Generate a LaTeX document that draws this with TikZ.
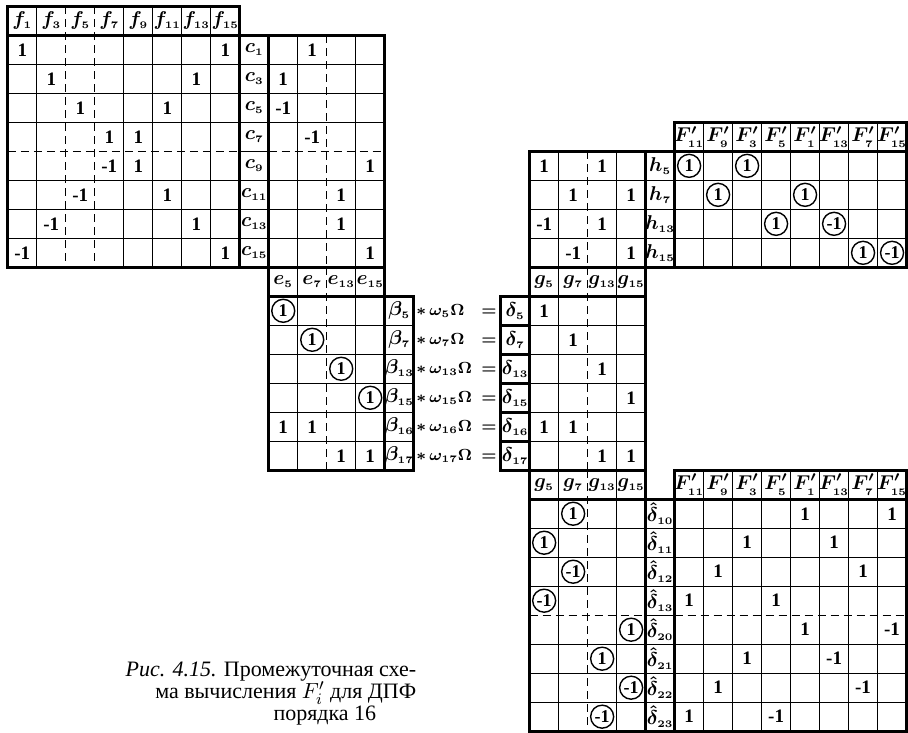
\documentclass[tikz,border=0pt]{standalone}
\usepackage{amsmath}
\usepackage{fontspec}
\setmainfont{Liberation Serif}
\usepackage{tikz}

\tikzset{
  thinrule/.style={line width=0.6pt},
  thickrule/.style={line width=1.6pt},
  halfrule/.style={line width=0.6pt, dash pattern=on 4pt off 2.5pt},
  entry/.style={inner sep=0pt, font=\fontsize{9.5}{10}\selectfont\bfseries},
  ringed/.style={circle, draw, line width=0.7pt, inner sep=0pt, minimum size=11.5pt,
    font=\fontsize{9}{10}\selectfont\bfseries},
  tag/.style={inner sep=0pt, font=\fontsize{10}{11}\selectfont\boldmath},
}
\newcommand{\sub}[2]{#1_{\scriptscriptstyle #2}}

\begin{document}
\begin{tikzpicture}[x=14.5pt, y=-14.5pt]
\useasboundingbox (-0.27,-0.22) rectangle (31.05,25.03);

% Draw matrix f -> c
\foreach \x in {1,4,5,6,7} \draw[thinrule] (\x,0) -- (\x,9);
\foreach \x in {2,3} \draw[halfrule] (\x,0) -- (\x,9);
\foreach \y in {2,3,4,6,7,8} \draw[thinrule] (0,\y) -- (13,\y);
\draw[halfrule] (0,5) -- (8,5);
\draw[thinrule] (8,5) -- (9,5);
\draw[halfrule] (9,5) -- (13,5);
\foreach \x in {10,12} \draw[thinrule] (\x,1) -- (\x,9);
\draw[halfrule] (11,1) -- (11,9);
\draw[thickrule] (0,0) rectangle (8,1);
\draw[thickrule] (0,1) rectangle (8,9);
\draw[thickrule] (8,1) rectangle (9,9);
\draw[thickrule] (9,1) rectangle (13,9);

\foreach \k/\n in {0/1,1/3,2/5,3/7,4/9,5/11,6/13,7/15}
  \node[tag] (f\n) at (\k+0.5,0.5) {$\sub{f}{\n}$};
\foreach \k/\n in {1/1,2/3,3/5,4/7,5/9,6/11,7/13,8/15}
  \node[tag] (c\n) at (8.5,\k+0.5) {$\sub{c}{\n}$};
\foreach \x/\y/\v [count=\i] in {0/1/1, 7/1/1, 1/2/1, 6/2/1, 2/3/1, 5/3/1, 3/4/1, 4/4/1,
    3/5/-1, 4/5/1, 2/6/-1, 5/6/1, 1/7/-1, 6/7/1, 0/8/-1, 7/8/1,
    10/1/1, 9/2/1, 9/3/-1, 10/4/-1, 12/5/1, 11/6/1, 11/7/1, 12/8/1}
  \node[entry] (a\i) at (\x+0.5,\y+0.5) {\v};

% Draw matrix e -> beta
\draw[thinrule] (10,9) -- (10,16);
\draw[halfrule] (11,9) -- (11,16);
\draw[thinrule] (12,9) -- (12,16);
\foreach \y in {11,...,15} \draw[thinrule] (9,\y) -- (14,\y);
\draw[thickrule] (9,9) rectangle (13,10);
\draw[thickrule] (9,10) rectangle (13,16);
\draw[thickrule] (13,10) rectangle (14,16);

\foreach \k/\n in {9/5,10/7,11/13,12/15}
  \node[tag] (e\n) at (\k+0.5,9.5) {$\sub{e}{\n}$};
\foreach \x/\y [count=\i] in {9/10, 10/11, 11/12, 12/13}
  \node[ringed] (r\i) at (\x+0.5,\y+0.5) {1};
\foreach \x/\y [count=\i] in {9/14, 10/14, 11/15, 12/15}
  \node[entry] (b\i) at (\x+0.5,\y+0.5) {1};

% Products with twiddle factors
\foreach \k/\n in {10/5,11/7,12/13,13/15,14/16,15/17} {
  \node[tag] (beta\n) at (13.5,\k+0.5) {$\sub{\beta}{\n}$};
  \node[tag, anchor=west, font=\fontsize{8.5}{10}\selectfont\boldmath] (om\n) at (14.08,\k+0.5)
    {\makebox[32.5pt][l]{$\ast\,\sub{\omega}{\n}\Omega$}$=$};
  \node[tag] (delta\n) at (17.5,\k+0.5) {$\sub{\delta}{\n}$};
}
\foreach \y in {11,...,15} \draw[thickrule] (17,\y) -- (18,\y);
\draw[thickrule] (17,10) rectangle (18,16);

% Draw matrix g -> delta
\draw[thinrule] (19,9) -- (19,16);
\draw[halfrule] (20,9) -- (20,16);
\draw[thinrule] (21,9) -- (21,16);
\foreach \y in {11,...,15} \draw[thinrule] (18,\y) -- (22,\y);
\draw[thickrule] (18,9) rectangle (22,10);
\draw[thickrule] (18,10) rectangle (22,16);

\foreach \k/\n in {18/5,19/7,20/13,21/15}
  \node[tag] (g\n) at (\k+0.5,9.5) {$\sub{g}{\n}$};
\foreach \x/\y [count=\i] in {18/10, 19/11, 20/12, 21/13, 18/14, 19/14, 20/15, 21/15}
  \node[entry] (d\i) at (\x+0.5,\y+0.5) {1};

% Draw matrix h -> F'
\foreach \x in {24,...,30} \draw[thinrule] (\x,4) -- (\x,9);
\draw[thinrule] (19,5) -- (19,9);
\draw[halfrule] (20,5) -- (20,9);
\draw[thinrule] (21,5) -- (21,9);
\foreach \y in {6,7,8} \draw[thinrule] (18,\y) -- (31,\y);
\draw[thickrule] (23,4) rectangle (31,5);
\draw[thickrule] (18,5) rectangle (22,9);
\draw[thickrule] (22,5) rectangle (23,9);
\draw[thickrule] (23,5) rectangle (31,9);

\foreach \k/\n in {23/11,24/9,25/3,26/5,27/1,28/13,29/7,30/15}
  \node[tag] (Fa\n) at (\k+0.5,4.5) {$\sub{F'}{\n}$};
\foreach \k/\n in {5/5,6/7,7/13,8/15}
  \node[tag] (h\n) at (22.5,\k+0.5) {$\sub{h}{\n}$};
\foreach \x/\y/\v [count=\i] in {18/5/1, 20/5/1, 19/6/1, 21/6/1, 18/7/-1, 20/7/1, 19/8/-1, 21/8/1}
  \node[entry] (p\i) at (\x+0.5,\y+0.5) {\v};
\foreach \x/\y/\v [count=\i] in {23/5/1, 25/5/1, 24/6/1, 27/6/1, 26/7/1, 28/7/-1, 29/8/1, 30/8/-1}
  \node[ringed] (q\i) at (\x+0.5,\y+0.5) {\v};

% Draw matrix g, delta-hat -> F'
\foreach \x in {24,...,30} \draw[thinrule] (\x,16) -- (\x,25);
\draw[thinrule] (19,16) -- (19,25);
\draw[halfrule] (20,16) -- (20,25);
\draw[thinrule] (21,16) -- (21,25);
\foreach \y in {18,19,20,22,23,24} \draw[thinrule] (18,\y) -- (31,\y);
\draw[halfrule] (18,21) -- (22,21);
\draw[thinrule] (22,21) -- (23,21);
\draw[halfrule] (23,21) -- (31,21);
\draw[thickrule] (18,16) rectangle (22,17);
\draw[thickrule] (23,16) rectangle (31,17);
\draw[thickrule] (18,17) rectangle (22,25);
\draw[thickrule] (22,17) rectangle (23,25);
\draw[thickrule] (23,17) rectangle (31,25);

\foreach \k/\n in {18/5,19/7,20/13,21/15}
  \node[tag] (gg\n) at (\k+0.5,16.5) {$\sub{g}{\n}$};
\foreach \k/\n in {23/11,24/9,25/3,26/5,27/1,28/13,29/7,30/15}
  \node[tag] (Fb\n) at (\k+0.5,16.5) {$\sub{F'}{\n}$};
\foreach \k/\n in {17/10,18/11,19/12,20/13,21/20,22/21,23/22,24/23}
  \node[tag] (dh\n) at (22.5,\k+0.5) {$\sub{\hat{\delta}}{\n}$};
\foreach \x/\y/\v [count=\i] in {19/17/1, 18/18/1, 19/19/-1, 18/20/-1, 21/21/1, 20/22/1, 21/23/-1, 20/24/-1}
  \node[ringed] (s\i) at (\x+0.5,\y+0.5) {\v};
\foreach \x/\y/\v [count=\i] in {27/17/1, 30/17/1, 25/18/1, 28/18/1, 24/19/1, 29/19/1, 23/20/1, 26/20/1,
    27/21/1, 30/21/-1, 25/22/1, 28/22/-1, 24/23/1, 29/23/-1, 23/24/1, 26/24/-1}
  \node[entry] (t\i) at (\x+0.5,\y+0.5) {\v};

% Caption
\node[anchor=north east, align=right, inner sep=0pt, font=\fontsize{11}{11}\selectfont]
  (caption) at (14.1,22.6)
  {{\itshape Рис. 4.15.} Промежуточная схе-\\ма вычисления $F'_i$ для ДПФ\\порядка 16\hspace*{20pt}};
\end{tikzpicture}
\end{document}
